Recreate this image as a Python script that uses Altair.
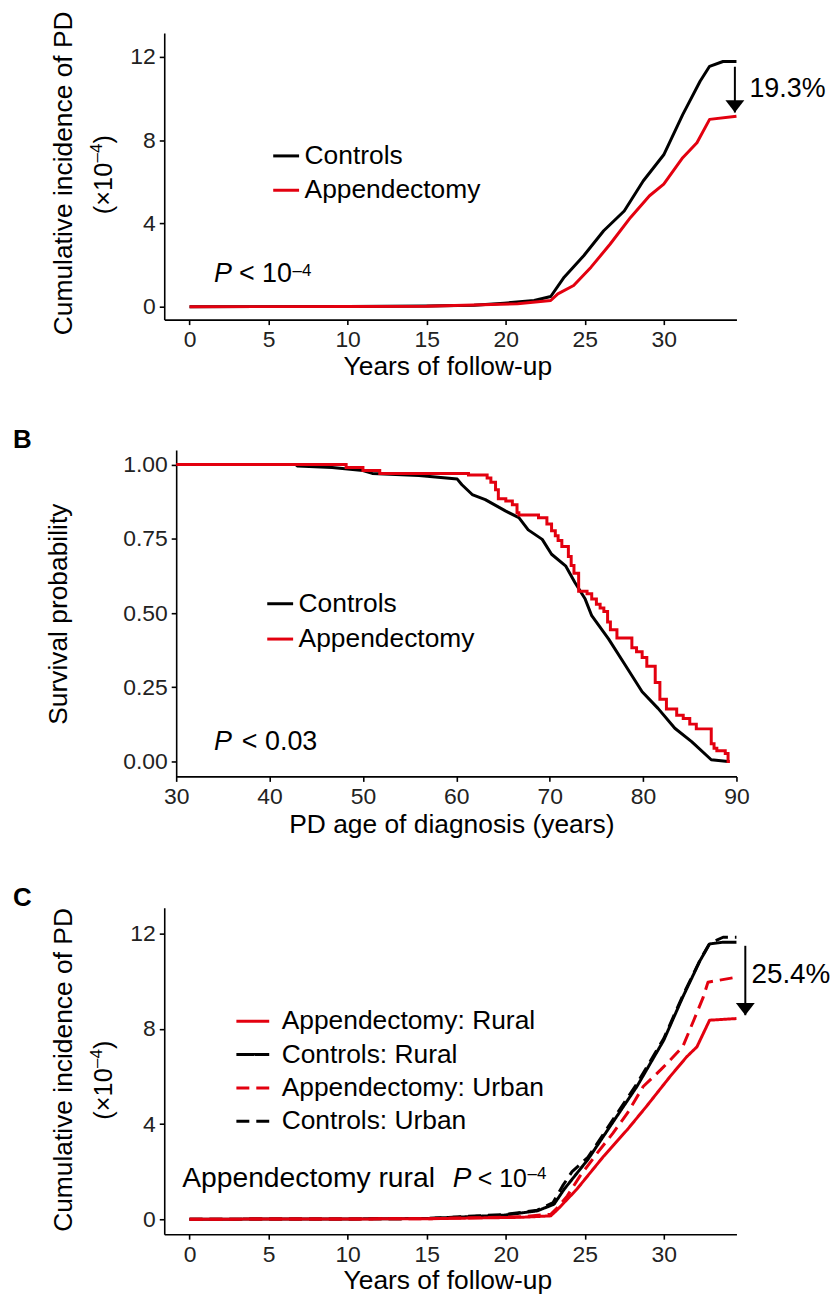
import altair as alt
import pandas as pd

FONT = "Liberation Sans"
RED = "#E3000F"

# ---------------- Panel A: cumulative incidence (x10^-4) ----------------
a_ctrl_x = [0, 10, 15, 18, 19.9, 21.8, 22.85, 23.7, 24.95, 26.2, 27.5, 28.7, 30.0, 31.2, 32.3, 32.9, 33.75, 34.6]
a_ctrl_y = [0, 0.01, 0.03, 0.07, 0.17, 0.3, 0.49, 1.42, 2.46, 3.65, 4.6, 6.04, 7.3, 9.23, 10.83, 11.55, 11.78, 11.78]
a_app_x = [0, 10, 15, 20.75, 22.85, 23.3, 24.3, 25.4, 26.6, 27.9, 29.1, 30.0, 31.2, 32.1, 32.9, 34.6]
a_app_y = [0, 0.01, 0.02, 0.14, 0.3, 0.62, 1.02, 1.9, 3.0, 4.29, 5.33, 5.89, 7.16, 7.88, 9.0, 9.15]
a_groups = ["Controls", "Appendectomy"]

# ---------------- Panel B: survival probability ----------------
b_ctrl_x = [30, 42.8, 43.0, 46.7, 50, 51, 56, 60.1, 60.6, 61.7, 63.1, 65.3, 66.7, 67.7, 69.2, 70.2, 71.7,
            72.7, 73.8, 74.5, 76.3, 78.1, 79.9, 81.6, 83.4, 85.2, 87.3, 89.1]
b_ctrl_y = [1.0, 1.0, 0.995, 0.99, 0.98, 0.97, 0.963, 0.951, 0.932, 0.899, 0.882, 0.843, 0.821, 0.78, 0.748,
            0.698, 0.659, 0.603, 0.547, 0.491, 0.413, 0.324, 0.235, 0.179, 0.112, 0.067, 0.006, 0.0]
b_app_x = [30, 48.2, 50.0, 51.8, 61.3, 63.3, 63.7, 64.2, 64.5, 65.3, 66.0, 66.5, 66.7, 68.8, 69.7, 70.2, 70.6,
           70.9, 71.3, 72.0, 72.3, 72.6, 73.1, 74.0, 74.5, 75.0, 75.4, 75.8, 76.2, 76.5, 77.2, 78.8, 79.3,
           79.9, 80.4, 81.3, 81.8, 82.5, 83.6, 84.3, 85.0, 85.7, 87.3, 87.6, 87.9, 88.8, 89.1, 89.3]
b_app_y = [1.0, 0.99, 0.98, 0.97, 0.965, 0.955, 0.94, 0.915, 0.885, 0.877, 0.865, 0.838, 0.83, 0.821, 0.80,
           0.777, 0.76, 0.744, 0.724, 0.69, 0.66, 0.634, 0.573, 0.565, 0.547, 0.53, 0.517, 0.505, 0.47,
           0.444, 0.416, 0.383, 0.37, 0.35, 0.321, 0.266, 0.21, 0.177, 0.156, 0.145, 0.126, 0.11, 0.06,
           0.045, 0.036, 0.027, 0.0, 0.0]

# ---------------- Panel C: rural / urban ----------------
c_groups = ["Appendectomy: Rural", "Controls: Rural", "Appendectomy: Urban", "Controls: Urban"]
c_ctrl_rural_x = [0, 10, 15, 19.9, 22.0, 23.06, 23.7, 25.2, 26.6, 28.3, 30.0, 31.2, 32.3, 32.9, 33.75, 34.6]
c_ctrl_rural_y = [0, 0.01, 0.03, 0.17, 0.35, 0.63, 1.26, 2.51, 3.9, 5.58, 7.53, 9.34, 10.88, 11.58, 11.65, 11.65]
c_ctrl_urban_x = [0, 10, 15, 20, 22.0, 23.0, 23.6, 24.2, 25.2, 26.6, 28.3, 30.0, 31.2, 32.3, 32.9, 33.75, 34.6]
c_ctrl_urban_y = [0, 0.01, 0.03, 0.2, 0.38, 0.7, 1.4, 2.0, 2.6, 4.0, 5.7, 7.6, 9.4, 10.9, 11.6, 11.86, 11.86]
c_app_urban_x = [0, 10, 15, 21, 22.85, 23.3, 23.9, 24.7, 25.8, 26.8, 27.7, 28.7, 29.8, 30.4, 31.2, 31.9, 32.5, 32.8, 34.6]
c_app_urban_y = [0, 0.01, 0.02, 0.1, 0.21, 0.5, 0.98, 1.81, 2.79, 3.63, 4.46, 5.58, 6.28, 6.69, 7.25, 8.37, 9.34, 9.97, 10.18]
c_app_rural_x = [0, 10, 15, 21, 22.85, 23.3, 24.5, 26.2, 27.7, 28.9, 30.4, 31.45, 32.1, 32.9, 34.6]
c_app_rural_y = [0, 0.01, 0.02, 0.08, 0.14, 0.42, 1.26, 2.65, 3.77, 4.74, 6.0, 6.83, 7.25, 8.37, 8.44]

x_ticks_fu = [0, 5, 10, 15, 20, 25, 30]
y_ticks_ci = [0, 4, 8, 12]
x_ticks_age = [30, 40, 50, 60, 70, 80, 90]
y_ticks_surv = [0.0, 0.25, 0.5, 0.75, 1.0]

ARROW = "M0,0L-1,-1.3L1,-1.3Z"


def frame(xs, ys, name):
    return pd.DataFrame({"x": xs, "y": ys, "group": name})


def txt(s, x, y, size=26.5, angle=0, align="left", baseline="alphabetic", style="normal", weight="normal"):
    return alt.Chart(pd.DataFrame({"d": [0]})).mark_text(
        text=s, font=FONT, fontSize=size, angle=angle, align=align, baseline=baseline,
        fontStyle=style, fontWeight=weight, color="black"
    ).encode(x=alt.value(x), y=alt.value(y))


def xaxis(vals, fmt="d"):
    return alt.Axis(values=vals, format=fmt, title=None, labelFlush=False, labelOverlap=False, grid=False)


def yaxis(vals, fmt="d", offset=0):
    return alt.Axis(values=vals, format=fmt, title=None, labelOverlap=False, grid=False, offset=offset)


def legend(lx, ly, size, row_pad, label_off):
    return alt.Legend(orient="none", legendX=lx, legendY=ly, title=None, direction="vertical",
                      symbolType="stroke", symbolSize=size, symbolStrokeWidth=3, labelFont=FONT,
                      labelFontSize=26.5, labelColor="black", labelLimit=500, rowPadding=row_pad,
                      labelOffset=label_off, padding=0)


W = 575

# ---------- A ----------
HA = 288
a_df = pd.concat([frame(a_ctrl_x, a_ctrl_y, "Controls"), frame(a_app_x, a_app_y, "Appendectomy")])
ax_a = alt.X("x:Q", scale=alt.Scale(domain=[-1.6, 34.6], nice=False, zero=False), axis=xaxis(x_ticks_fu))
ay_a = alt.Y("y:Q", scale=alt.Scale(domain=[-0.62, 13.15], nice=False, zero=False), axis=yaxis(y_ticks_ci))
a_lines = alt.Chart(a_df).mark_line(strokeWidth=3, strokeJoin="round").encode(
    x=ax_a, y=ay_a,
    color=alt.Color("group:N", scale=alt.Scale(domain=a_groups, range=["black", RED]),
                    legend=legend(108, 109, 676, 6.5, 4)),
)
a_arrow_df = pd.DataFrame({"x": [34.5], "y": [a_ctrl_y[-1] - 0.25], "y2": [a_app_y[-1] + 0.18]})
a_rule = alt.Chart(a_arrow_df).mark_rule(strokeWidth=2, color="black").encode(x="x:Q", y="y:Q", y2="y2:Q")
a_head = alt.Chart(a_arrow_df).mark_point(shape=ARROW, filled=True, size=360, color="black", opacity=1).encode(
    x="x:Q", y="y2:Q")
panel_a = alt.layer(
    a_lines, a_rule, a_head,
    txt("19.3%", 588, 64, size=27),
    txt("P", 50, 250, size=27, style="italic"),
    txt("< 10", 75, 250, size=27),
    txt("\u20134", 129, 244, size=17),
    txt("Cumulative incidence of PD", -93, HA / 2 - 3, angle=270, align="center"),
    txt("(\u00d710", -52, 182, size=25.5, angle=270),
    txt("\u20134", -63, 130, size=17, angle=270),
    txt(")", -52, 111, size=25.5, angle=270),
    txt("Years of follow-up", 285, HA + 56, align="center"),
).properties(width=W, height=HA)

# ---------- B ----------
HB = 328
b_ctrl_df = frame(b_ctrl_x, b_ctrl_y, "Controls")
b_app_df = frame(b_app_x, b_app_y, "Appendectomy")
ax_b = alt.X("x:Q", scale=alt.Scale(domain=[30, 90], range=[12, W], nice=False, zero=False),
             axis=xaxis(x_ticks_age))
ay_b = alt.Y("y:Q", scale=alt.Scale(domain=[-0.05, 1.049], nice=False, zero=False),
             axis=yaxis(y_ticks_surv, fmt=".2f", offset=-12))
b_color = alt.Color("group:N", scale=alt.Scale(domain=a_groups, range=["black", RED]),
                    legend=legend(102, 140, 676, 7.5, 4))
b_l1 = alt.Chart(b_ctrl_df).mark_line(strokeWidth=3, strokeJoin="round").encode(x=ax_b, y=ay_b, color=b_color)
b_l2 = alt.Chart(b_app_df).mark_line(strokeWidth=3, interpolate="step-after").encode(x=ax_b, y=ay_b, color=b_color)
panel_b = alt.layer(
    b_l1, b_l2,
    txt("B", -152, -2, size=26, weight="bold"),
    txt("P", 50, 301, size=27, style="italic"),
    txt("< 0.03", 78, 301, size=27),
    txt("Survival probability", -98, HB / 2 + 1, angle=270, align="center"),
    txt("PD age of diagnosis (years)", 289, HB + 57, align="center"),
).properties(width=W, height=HB)

# ---------- C ----------
HC = 328
c_df = pd.concat([
    frame(c_ctrl_rural_x, c_ctrl_rural_y, "Controls: Rural"),
    frame(c_ctrl_urban_x, c_ctrl_urban_y, "Controls: Urban"),
    frame(c_app_urban_x, c_app_urban_y, "Appendectomy: Urban"),
    frame(c_app_rural_x, c_app_rural_y, "Appendectomy: Rural"),
])
ax_c = alt.X("x:Q", scale=alt.Scale(domain=[-1.6, 34.6], nice=False, zero=False), axis=xaxis(x_ticks_fu))
ay_c = alt.Y("y:Q", scale=alt.Scale(domain=[-0.63, 13.1], nice=False, zero=False), axis=yaxis(y_ticks_ci))
c_leg = legend(71, 96, 1089, 1.5, 11)
c_lines = alt.Chart(c_df).mark_line(strokeWidth=3, strokeJoin="round").encode(
    x=ax_c, y=ay_c,
    color=alt.Color("group:N", scale=alt.Scale(domain=c_groups, range=[RED, "black", RED, "black"]), legend=c_leg),
    strokeDash=alt.StrokeDash("group:N", scale=alt.Scale(domain=c_groups, range=[[1, 0], [1, 0], [13, 7], [13, 7]]),
                              legend=c_leg),
)
c_arrow_df = pd.DataFrame({"x": [35.16], "y": [c_ctrl_rural_y[-1] - 0.15], "y2": [c_app_rural_y[-1] + 0.14]})
c_rule = alt.Chart(c_arrow_df).mark_rule(strokeWidth=2, color="black").encode(x="x:Q", y="y:Q", y2="y2:Q")
c_head = alt.Chart(c_arrow_df).mark_point(shape=ARROW, filled=True, size=360, color="black", opacity=1).encode(
    x="x:Q", y="y2:Q")
panel_c = alt.layer(
    c_lines, c_rule, c_head,
    txt("C", -152, -2, size=26, weight="bold"),
    txt("25.4%", 590, 76, size=28),
    txt("Appendectomy rural", 18, 281, size=28.4),
    txt("P", 290, 281, size=28, style="italic"),
    txt("< 10", 315, 281, size=25),
    txt("\u20134", 365, 273, size=17),
    txt("Cumulative incidence of PD", -93, HC / 2 - 1, angle=270, align="center"),
    txt("(\u00d710", -52, 213, size=25.5, angle=270),
    txt("\u20134", -63, 161, size=17, angle=270),
    txt(")", -52, 142, size=25.5, angle=270),
    txt("Years of follow-up", 285, HC + 55, align="center"),
).properties(width=W, height=HC)

chart = alt.vconcat(panel_a, panel_b, panel_c, spacing=46).resolve_scale(
    x="independent", y="independent", color="independent", strokeDash="independent"
).resolve_legend(color="independent", strokeDash="independent").properties(
    padding={"left": 5, "top": 0, "right": 0, "bottom": 0}, background="white"
).configure_view(stroke=None).configure_axis(
    domainColor="black", domainWidth=1.6, tickColor="black", tickWidth=1.6, tickSize=5,
    labelFont=FONT, labelFontSize=23, labelColor="#222", labelPadding=4, grid=False
)

chart.save("out.html", embed_options={"renderer": "svg", "actions": False})
